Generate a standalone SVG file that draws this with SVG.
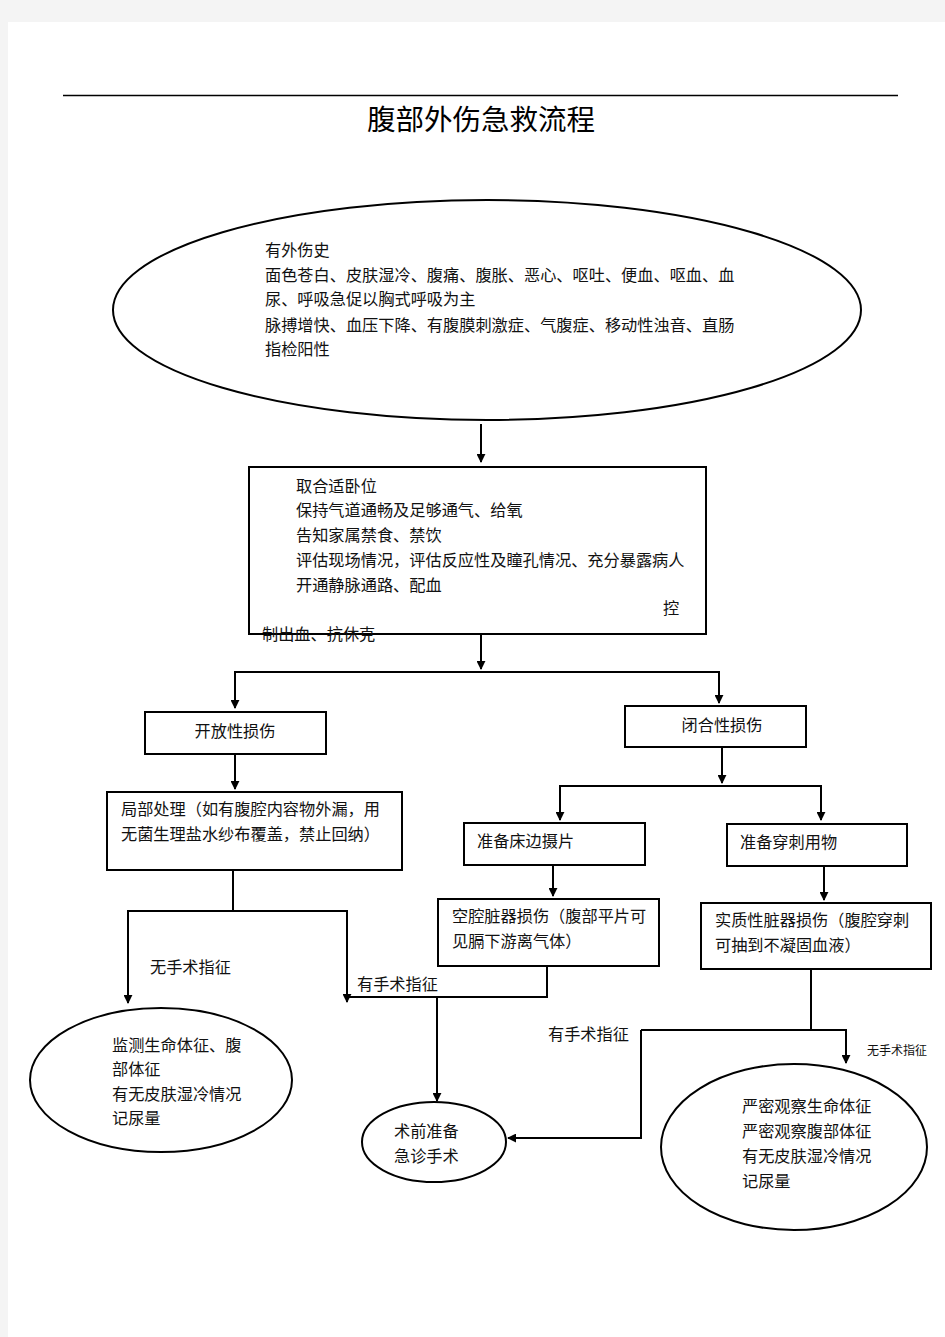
<svg xmlns="http://www.w3.org/2000/svg" width="945" height="1337" viewBox="0 0 945 1337">
<defs>
<style>
.t{font-family:"Noto Sans CJK SC","Liberation Sans",sans-serif;font-size:16.2px;fill:#111}
.s{font-size:12px}
.title{font-family:"Noto Sans CJK SC","Liberation Serif",serif;font-size:28.5px;fill:#000}
.n{fill:#fff;stroke:#000;stroke-width:2}
.c{fill:none;stroke:#000;stroke-width:2}
</style>
<marker id="ah" viewBox="0 0 10 10" refX="9" refY="5" markerWidth="4.5" markerHeight="4.5" orient="auto" markerUnits="strokeWidth">
<path d="M0,0 L10,5 L0,10 z" fill="#000"/>
</marker>
</defs>
<rect x="0" y="0" width="945" height="1337" fill="#f4f4f4"/>
<rect x="8" y="22" width="937" height="1315" fill="#fff"/>
<line x1="63" y1="95.5" x2="898" y2="95.5" stroke="#000" stroke-width="1.5"/>
<text class="title" x="481" y="130" text-anchor="middle">腹部外伤急救流程</text>

<g id="connectors">
<line class="c" x1="481" y1="424" x2="481" y2="462" marker-end="url(#ah)"/>
<line class="c" x1="481" y1="634" x2="481" y2="669" marker-end="url(#ah)"/>
<polyline class="c" points="235,708 235,672 719,672 719,703" marker-end="url(#ah)"/>
<line class="c" x1="235" y1="672" x2="235" y2="708" marker-end="url(#ah)"/>
<line class="c" x1="235" y1="754" x2="235" y2="789" marker-end="url(#ah)"/>
<line class="c" x1="722" y1="747" x2="722" y2="783" marker-end="url(#ah)"/>
<polyline class="c" points="560,820 560,786 821,786 821,820" marker-end="url(#ah)"/>
<line class="c" x1="560" y1="786" x2="560" y2="820" marker-end="url(#ah)"/>
<line class="c" x1="553" y1="865" x2="553" y2="896" marker-end="url(#ah)"/>
<line class="c" x1="824" y1="866" x2="824" y2="900" marker-end="url(#ah)"/>
<polyline class="c" points="233,870 233,911 128,911 128,1003" marker-end="url(#ah)"/>
<polyline class="c" points="233,911 347,911 347,1002" marker-end="url(#ah)"/>
<polyline class="c" points="547,966 547,997 347,997"/>
<line class="c" x1="437" y1="997" x2="437" y2="1101" marker-end="url(#ah)"/>
<polyline class="c" points="811,969 811,1030"/>
<polyline class="c" points="641,1030 846,1030 846,1063" marker-end="url(#ah)"/>
<polyline class="c" points="641,1030 641,1138 508,1138" marker-end="url(#ah)"/>
<text class="t" x="150" y="973">无手术指征</text>
<text class="t" x="357" y="990">有手术指征</text>
<text class="t" x="548" y="1040">有手术指征</text>
<text class="t s" x="867" y="1055">无手术指征</text>
</g>

<g id="n_history">
<ellipse class="n" cx="487" cy="310" rx="374" ry="110"/>
<text class="t" x="265" y="256">有外伤史</text>
<text class="t" x="265" y="281">面色苍白、皮肤湿冷、腹痛、腹胀、恶心、呕吐、便血、呕血、血</text>
<text class="t" x="265" y="305">尿、呼吸急促以胸式呼吸为主</text>
<text class="t" x="265" y="331">脉搏增快、血压下降、有腹膜刺激症、气腹症、移动性浊音、直肠</text>
<text class="t" x="265" y="355">指检阳性</text>
</g>

<g id="n_first">
<rect class="n" x="249" y="467" width="457" height="167"/>
<text class="t" x="296" y="492">取合适卧位</text>
<text class="t" x="296" y="516">保持气道通畅及足够通气、给氧</text>
<text class="t" x="296" y="541">告知家属禁食、禁饮</text>
<text class="t" x="296" y="566">评估现场情况，评估反应性及瞳孔情况、充分暴露病人</text>
<text class="t" x="296" y="591">开通静脉通路、配血</text>
<text class="t" x="663" y="614">控</text>
<text class="t" x="262" y="640">制出血、抗休克</text>
</g>

<g id="n_open">
<rect class="n" x="145" y="712" width="181" height="42"/>
<text class="t" x="235" y="737" text-anchor="middle">开放性损伤</text>
</g>

<g id="n_closed">
<rect class="n" x="625" y="706" width="181" height="41"/>
<text class="t" x="722" y="731" text-anchor="middle">闭合性损伤</text>
</g>

<g id="n_local">
<rect class="n" x="107" y="792" width="295" height="78"/>
<text class="t" x="121" y="815">局部处理（如有腹腔内容物外漏，用</text>
<text class="t" x="121" y="840">无菌生理盐水纱布覆盖，禁止回纳）</text>
</g>

<g id="n_xray">
<rect class="n" x="464" y="823" width="181" height="42"/>
<text class="t" x="477" y="847">准备床边摄片</text>
</g>

<g id="n_puncture">
<rect class="n" x="727" y="824" width="180" height="42"/>
<text class="t" x="740" y="848">准备穿刺用物</text>
</g>

<g id="n_hollow">
<rect class="n" x="438" y="899" width="221" height="67"/>
<text class="t" x="452" y="922">空腔脏器损伤（腹部平片可</text>
<text class="t" x="452" y="947">见膈下游离气体）</text>
</g>

<g id="n_solid">
<rect class="n" x="701" y="903" width="230" height="66"/>
<text class="t" x="715" y="926">实质性脏器损伤（腹腔穿刺</text>
<text class="t" x="715" y="951">可抽到不凝固血液）</text>
</g>

<g id="n_monitor">
<ellipse class="n" cx="161" cy="1080" rx="131" ry="72"/>
<text class="t" x="112" y="1051">监测生命体征、腹</text>
<text class="t" x="112" y="1075">部体征</text>
<text class="t" x="112" y="1100">有无皮肤湿冷情况</text>
<text class="t" x="112" y="1124">记尿量</text>
</g>

<g id="n_surgery">
<ellipse class="n" cx="434" cy="1142" rx="72" ry="40"/>
<text class="t" x="394" y="1137">术前准备</text>
<text class="t" x="394" y="1162">急诊手术</text>
</g>

<g id="n_observe">
<ellipse class="n" cx="794" cy="1147" rx="133" ry="83"/>
<text class="t" x="742" y="1112">严密观察生命体征</text>
<text class="t" x="742" y="1137">严密观察腹部体征</text>
<text class="t" x="742" y="1162">有无皮肤湿冷情况</text>
<text class="t" x="742" y="1187">记尿量</text>
</g>
</svg>
